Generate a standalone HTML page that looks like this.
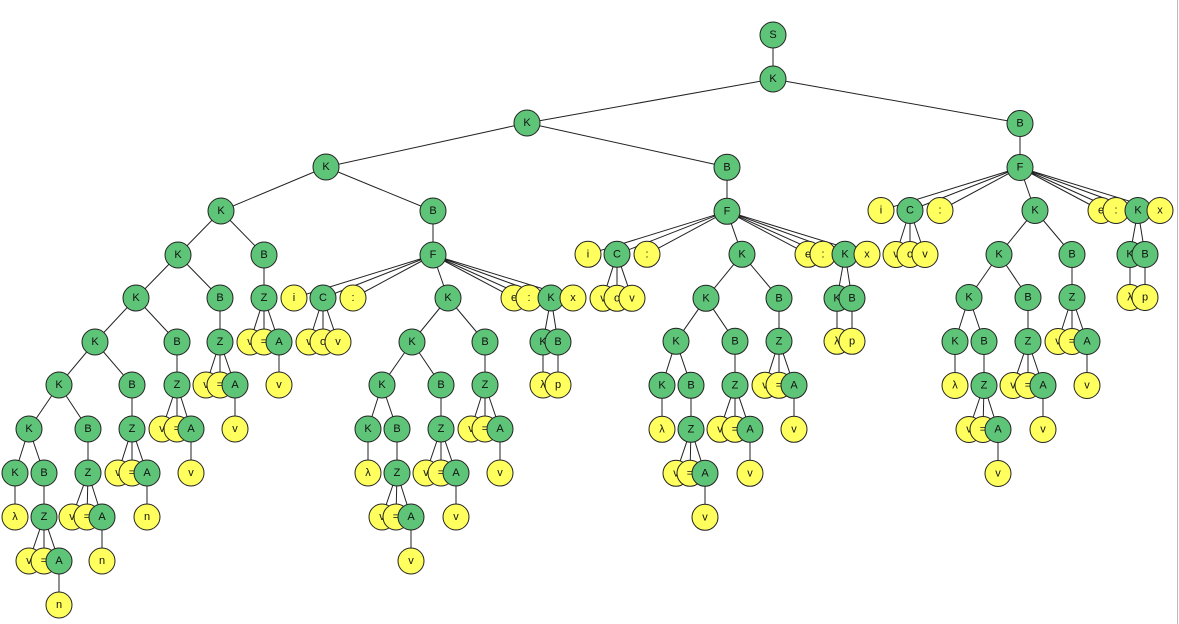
<!DOCTYPE html>
<html><head><meta charset="utf-8"><style>
html,body{margin:0;padding:0;background:#fff;}
svg{display:block;}
text{font-family:"Liberation Sans","DejaVu Sans",sans-serif;font-size:11px;text-anchor:middle;dominant-baseline:central;fill:#111;}
.g{fill:#5ec478;stroke:#222;stroke-width:1;}
.y{fill:#ffff5e;stroke:#222;stroke-width:1;}
.e{stroke:#222;stroke-width:1;fill:none;}
</style></head><body>
<svg width="1179" height="624" viewBox="0 0 1179 624" xmlns="http://www.w3.org/2000/svg">
<defs>
<g id="dummy"></g>
</defs>
<line x1="1177.5" y1="0" x2="1177.5" y2="624" stroke="#bbb"/>
<path class="e" d="M773 35L773 79M773 79L527 123M773 79L1020 123M527 123L326 167M527 123L727 167M326 167L221 211M326 167L433 211
M221 211L178 255M221 211L264 255M264 255L264 298M264 298L250 342M264 298L264 342M264 298L279 342M279 342L279 385
M178 255L136 298M178 255L220 298M220 298L220 342M220 342L206 385M220 342L220 385M220 342L235 385M235 385L235 429
M136 298L95 342M136 298L177 342M177 342L177 385M177 385L162 429M177 385L177 429M177 385L191 429M191 429L191 473
M95 342L59 385M95 342L132 385M132 385L132 429M132 429L118 473M132 429L132 473M132 429L147 473M147 473L147 517
M59 385L29 429M59 385L88 429M88 429L88 473M88 473L72 517M88 473L87 517M88 473L102 517M102 517L102 561
M29 429L15 473M29 429L44 473M15 473L15 517M44 473L44 517M44 517L29 561M44 517L44 561M44 517L59 561M59 561L59 605"/>
<g>
<circle class="g" cx="773" cy="35" r="13"/><text x="773" y="35">S</text>
<circle class="g" cx="773" cy="79" r="13"/><text x="773" y="79">K</text>
<circle class="g" cx="527" cy="123" r="13"/><text x="527" y="123">K</text>
<circle class="g" cx="326" cy="167" r="13"/><text x="326" y="167">K</text>
<circle class="g" cx="221" cy="211" r="13"/><text x="221" y="211">K</text>
<circle class="g" cx="178" cy="255" r="13"/><text x="178" y="255">K</text>
<circle class="g" cx="264" cy="255" r="13"/><text x="264" y="255">B</text>
<circle class="g" cx="264" cy="298" r="13"/><text x="264" y="298">Z</text>
<circle class="y" cx="250" cy="342" r="13"/><text x="250" y="342">v</text>
<circle class="y" cx="264" cy="342" r="13"/><text x="264" y="342">=</text>
<circle class="g" cx="279" cy="342" r="13"/><text x="279" y="342">A</text>
<circle class="y" cx="279" cy="385" r="13"/><text x="279" y="385">v</text>
<circle class="g" cx="136" cy="298" r="13"/><text x="136" y="298">K</text>
<circle class="g" cx="220" cy="298" r="13"/><text x="220" y="298">B</text>
<circle class="g" cx="220" cy="342" r="13"/><text x="220" y="342">Z</text>
<circle class="y" cx="206" cy="385" r="13"/><text x="206" y="385">v</text>
<circle class="y" cx="220" cy="385" r="13"/><text x="220" y="385">=</text>
<circle class="g" cx="235" cy="385" r="13"/><text x="235" y="385">A</text>
<circle class="y" cx="235" cy="429" r="13"/><text x="235" y="429">v</text>
<circle class="g" cx="95" cy="342" r="13"/><text x="95" y="342">K</text>
<circle class="g" cx="177" cy="342" r="13"/><text x="177" y="342">B</text>
<circle class="g" cx="177" cy="385" r="13"/><text x="177" y="385">Z</text>
<circle class="y" cx="162" cy="429" r="13"/><text x="162" y="429">v</text>
<circle class="y" cx="177" cy="429" r="13"/><text x="177" y="429">=</text>
<circle class="g" cx="191" cy="429" r="13"/><text x="191" y="429">A</text>
<circle class="y" cx="191" cy="473" r="13"/><text x="191" y="473">v</text>
<circle class="g" cx="59" cy="385" r="13"/><text x="59" y="385">K</text>
<circle class="g" cx="132" cy="385" r="13"/><text x="132" y="385">B</text>
<circle class="g" cx="132" cy="429" r="13"/><text x="132" y="429">Z</text>
<circle class="y" cx="118" cy="473" r="13"/><text x="118" y="473">v</text>
<circle class="y" cx="132" cy="473" r="13"/><text x="132" y="473">=</text>
<circle class="g" cx="147" cy="473" r="13"/><text x="147" y="473">A</text>
<circle class="y" cx="147" cy="517" r="13"/><text x="147" y="517">n</text>
<circle class="g" cx="29" cy="429" r="13"/><text x="29" y="429">K</text>
<circle class="g" cx="88" cy="429" r="13"/><text x="88" y="429">B</text>
<circle class="g" cx="88" cy="473" r="13"/><text x="88" y="473">Z</text>
<circle class="y" cx="72" cy="517" r="13"/><text x="72" y="517">v</text>
<circle class="y" cx="87" cy="517" r="13"/><text x="87" y="517">=</text>
<circle class="g" cx="102" cy="517" r="13"/><text x="102" y="517">A</text>
<circle class="y" cx="102" cy="561" r="13"/><text x="102" y="561">n</text>
<circle class="g" cx="15" cy="473" r="13"/><text x="15" y="473">K</text>
<circle class="g" cx="44" cy="473" r="13"/><text x="44" y="473">B</text>
<circle class="y" cx="15" cy="517" r="13"/><text x="15" y="517">λ</text>
<circle class="g" cx="44" cy="517" r="13"/><text x="44" y="517">Z</text>
<circle class="y" cx="29" cy="561" r="13"/><text x="29" y="561">v</text>
<circle class="y" cx="44" cy="561" r="13"/><text x="44" y="561">=</text>
<circle class="g" cx="59" cy="561" r="13"/><text x="59" y="561">A</text>
<circle class="y" cx="59" cy="605" r="13"/><text x="59" y="605">n</text>
</g>

<!-- F subtree, copy 1 -->
<g>
<path class="e" d="M433 211L433 255M433 255L294 298M433 255L323 298M433 255L353 298M433 255L448 298M433 255L514 298M433 255L529 298M433 255L551 298M433 255L573 298
M323 298L309 342M323 298L323 342M323 298L338 342M448 298L412 342M448 298L485 342
M485 342L485 385M485 385L471 429M485 385L485 429M485 385L500 429M500 429L500 473
M412 342L382 385M412 342L441 385M441 385L441 429M441 429L426 473M441 429L441 473M441 429L456 473M456 473L456 517
M382 385L368 429M382 385L397 429M368 429L368 473M397 429L397 473M397 473L382 517M397 473L396 517M397 473L411 517M411 517L411 561
M551 298L543 342M551 298L558 342M543 342L543 385M558 342L558 385"/>
<circle class="g" cx="433" cy="211" r="13"/><text x="433" y="211">B</text>
<circle class="g" cx="433" cy="255" r="13"/><text x="433" y="255">F</text>
<circle class="y" cx="294" cy="298" r="13"/><text x="294" y="298">i</text>
<circle class="g" cx="323" cy="298" r="13"/><text x="323" y="298">C</text>
<circle class="y" cx="353" cy="298" r="13"/><text x="353" y="298">:</text>
<circle class="y" cx="309" cy="342" r="13"/><text x="309" y="342">v</text>
<circle class="y" cx="323" cy="342" r="13"/><text x="323" y="342">o</text>
<circle class="y" cx="338" cy="342" r="13"/><text x="338" y="342">v</text>
<circle class="g" cx="448" cy="298" r="13"/><text x="448" y="298">K</text>
<circle class="y" cx="514" cy="298" r="13"/><text x="514" y="298">e</text>
<circle class="y" cx="529" cy="298" r="13"/><text x="529" y="298">:</text>
<circle class="g" cx="551" cy="298" r="13"/><text x="551" y="298">K</text>
<circle class="y" cx="573" cy="298" r="13"/><text x="573" y="298">x</text>
<circle class="g" cx="543" cy="342" r="13"/><text x="543" y="342">K</text>
<circle class="g" cx="558" cy="342" r="13"/><text x="558" y="342">B</text>
<circle class="y" cx="543" cy="385" r="13"/><text x="543" y="385">λ</text>
<circle class="y" cx="558" cy="385" r="13"/><text x="558" y="385">p</text>
<circle class="g" cx="412" cy="342" r="13"/><text x="412" y="342">K</text>
<circle class="g" cx="485" cy="342" r="13"/><text x="485" y="342">B</text>
<circle class="g" cx="485" cy="385" r="13"/><text x="485" y="385">Z</text>
<circle class="y" cx="471" cy="429" r="13"/><text x="471" y="429">v</text>
<circle class="y" cx="485" cy="429" r="13"/><text x="485" y="429">=</text>
<circle class="g" cx="500" cy="429" r="13"/><text x="500" y="429">A</text>
<circle class="y" cx="500" cy="473" r="13"/><text x="500" y="473">v</text>
<circle class="g" cx="382" cy="385" r="13"/><text x="382" y="385">K</text>
<circle class="g" cx="441" cy="385" r="13"/><text x="441" y="385">B</text>
<circle class="g" cx="441" cy="429" r="13"/><text x="441" y="429">Z</text>
<circle class="y" cx="426" cy="473" r="13"/><text x="426" y="473">v</text>
<circle class="y" cx="441" cy="473" r="13"/><text x="441" y="473">=</text>
<circle class="g" cx="456" cy="473" r="13"/><text x="456" y="473">A</text>
<circle class="y" cx="456" cy="517" r="13"/><text x="456" y="517">v</text>
<circle class="g" cx="368" cy="429" r="13"/><text x="368" y="429">K</text>
<circle class="g" cx="397" cy="429" r="13"/><text x="397" y="429">B</text>
<circle class="y" cx="368" cy="473" r="13"/><text x="368" y="473">λ</text>
<circle class="g" cx="397" cy="473" r="13"/><text x="397" y="473">Z</text>
<circle class="y" cx="382" cy="517" r="13"/><text x="382" y="517">v</text>
<circle class="y" cx="396" cy="517" r="13"/><text x="396" y="517">=</text>
<circle class="g" cx="411" cy="517" r="13"/><text x="411" y="517">A</text>
<circle class="y" cx="411" cy="561" r="13"/><text x="411" y="561">v</text>
</g>

<!-- copy 2 -->
<g transform="translate(294,-43.7)">
<path class="e" d="M433 211L433 255M433 255L294 298M433 255L323 298M433 255L353 298M433 255L448 298M433 255L514 298M433 255L529 298M433 255L551 298M433 255L573 298
M323 298L309 342M323 298L323 342M323 298L338 342M448 298L412 342M448 298L485 342
M485 342L485 385M485 385L471 429M485 385L485 429M485 385L500 429M500 429L500 473
M412 342L382 385M412 342L441 385M441 385L441 429M441 429L426 473M441 429L441 473M441 429L456 473M456 473L456 517
M382 385L368 429M382 385L397 429M368 429L368 473M397 429L397 473M397 473L382 517M397 473L396 517M397 473L411 517M411 517L411 561
M551 298L543 342M551 298L558 342M543 342L543 385M558 342L558 385"/>
<circle class="g" cx="433" cy="211" r="13"/><text x="433" y="211">B</text>
<circle class="g" cx="433" cy="255" r="13"/><text x="433" y="255">F</text>
<circle class="y" cx="294" cy="298" r="13"/><text x="294" y="298">i</text>
<circle class="g" cx="323" cy="298" r="13"/><text x="323" y="298">C</text>
<circle class="y" cx="353" cy="298" r="13"/><text x="353" y="298">:</text>
<circle class="y" cx="309" cy="342" r="13"/><text x="309" y="342">v</text>
<circle class="y" cx="323" cy="342" r="13"/><text x="323" y="342">o</text>
<circle class="y" cx="338" cy="342" r="13"/><text x="338" y="342">v</text>
<circle class="g" cx="448" cy="298" r="13"/><text x="448" y="298">K</text>
<circle class="y" cx="514" cy="298" r="13"/><text x="514" y="298">e</text>
<circle class="y" cx="529" cy="298" r="13"/><text x="529" y="298">:</text>
<circle class="g" cx="551" cy="298" r="13"/><text x="551" y="298">K</text>
<circle class="y" cx="573" cy="298" r="13"/><text x="573" y="298">x</text>
<circle class="g" cx="543" cy="342" r="13"/><text x="543" y="342">K</text>
<circle class="g" cx="558" cy="342" r="13"/><text x="558" y="342">B</text>
<circle class="y" cx="543" cy="385" r="13"/><text x="543" y="385">λ</text>
<circle class="y" cx="558" cy="385" r="13"/><text x="558" y="385">p</text>
<circle class="g" cx="412" cy="342" r="13"/><text x="412" y="342">K</text>
<circle class="g" cx="485" cy="342" r="13"/><text x="485" y="342">B</text>
<circle class="g" cx="485" cy="385" r="13"/><text x="485" y="385">Z</text>
<circle class="y" cx="471" cy="429" r="13"/><text x="471" y="429">v</text>
<circle class="y" cx="485" cy="429" r="13"/><text x="485" y="429">=</text>
<circle class="g" cx="500" cy="429" r="13"/><text x="500" y="429">A</text>
<circle class="y" cx="500" cy="473" r="13"/><text x="500" y="473">v</text>
<circle class="g" cx="382" cy="385" r="13"/><text x="382" y="385">K</text>
<circle class="g" cx="441" cy="385" r="13"/><text x="441" y="385">B</text>
<circle class="g" cx="441" cy="429" r="13"/><text x="441" y="429">Z</text>
<circle class="y" cx="426" cy="473" r="13"/><text x="426" y="473">v</text>
<circle class="y" cx="441" cy="473" r="13"/><text x="441" y="473">=</text>
<circle class="g" cx="456" cy="473" r="13"/><text x="456" y="473">A</text>
<circle class="y" cx="456" cy="517" r="13"/><text x="456" y="517">v</text>
<circle class="g" cx="368" cy="429" r="13"/><text x="368" y="429">K</text>
<circle class="g" cx="397" cy="429" r="13"/><text x="397" y="429">B</text>
<circle class="y" cx="368" cy="473" r="13"/><text x="368" y="473">λ</text>
<circle class="g" cx="397" cy="473" r="13"/><text x="397" y="473">Z</text>
<circle class="y" cx="382" cy="517" r="13"/><text x="382" y="517">v</text>
<circle class="y" cx="396" cy="517" r="13"/><text x="396" y="517">=</text>
<circle class="g" cx="411" cy="517" r="13"/><text x="411" y="517">A</text>
<circle class="y" cx="411" cy="561" r="13"/><text x="411" y="561">v</text>
</g>

<!-- copy 3 -->
<g transform="translate(587,-87.5)">
<path class="e" d="M433 211L433 255M433 255L294 298M433 255L323 298M433 255L353 298M433 255L448 298M433 255L514 298M433 255L529 298M433 255L551 298M433 255L573 298
M323 298L309 342M323 298L323 342M323 298L338 342M448 298L412 342M448 298L485 342
M485 342L485 385M485 385L471 429M485 385L485 429M485 385L500 429M500 429L500 473
M412 342L382 385M412 342L441 385M441 385L441 429M441 429L426 473M441 429L441 473M441 429L456 473M456 473L456 517
M382 385L368 429M382 385L397 429M368 429L368 473M397 429L397 473M397 473L382 517M397 473L396 517M397 473L411 517M411 517L411 561
M551 298L543 342M551 298L558 342M543 342L543 385M558 342L558 385"/>
<circle class="g" cx="433" cy="211" r="13"/><text x="433" y="211">B</text>
<circle class="g" cx="433" cy="255" r="13"/><text x="433" y="255">F</text>
<circle class="y" cx="294" cy="298" r="13"/><text x="294" y="298">i</text>
<circle class="g" cx="323" cy="298" r="13"/><text x="323" y="298">C</text>
<circle class="y" cx="353" cy="298" r="13"/><text x="353" y="298">:</text>
<circle class="y" cx="309" cy="342" r="13"/><text x="309" y="342">v</text>
<circle class="y" cx="323" cy="342" r="13"/><text x="323" y="342">o</text>
<circle class="y" cx="338" cy="342" r="13"/><text x="338" y="342">v</text>
<circle class="g" cx="448" cy="298" r="13"/><text x="448" y="298">K</text>
<circle class="y" cx="514" cy="298" r="13"/><text x="514" y="298">e</text>
<circle class="y" cx="529" cy="298" r="13"/><text x="529" y="298">:</text>
<circle class="g" cx="551" cy="298" r="13"/><text x="551" y="298">K</text>
<circle class="y" cx="573" cy="298" r="13"/><text x="573" y="298">x</text>
<circle class="g" cx="543" cy="342" r="13"/><text x="543" y="342">K</text>
<circle class="g" cx="558" cy="342" r="13"/><text x="558" y="342">B</text>
<circle class="y" cx="543" cy="385" r="13"/><text x="543" y="385">λ</text>
<circle class="y" cx="558" cy="385" r="13"/><text x="558" y="385">p</text>
<circle class="g" cx="412" cy="342" r="13"/><text x="412" y="342">K</text>
<circle class="g" cx="485" cy="342" r="13"/><text x="485" y="342">B</text>
<circle class="g" cx="485" cy="385" r="13"/><text x="485" y="385">Z</text>
<circle class="y" cx="471" cy="429" r="13"/><text x="471" y="429">v</text>
<circle class="y" cx="485" cy="429" r="13"/><text x="485" y="429">=</text>
<circle class="g" cx="500" cy="429" r="13"/><text x="500" y="429">A</text>
<circle class="y" cx="500" cy="473" r="13"/><text x="500" y="473">v</text>
<circle class="g" cx="382" cy="385" r="13"/><text x="382" y="385">K</text>
<circle class="g" cx="441" cy="385" r="13"/><text x="441" y="385">B</text>
<circle class="g" cx="441" cy="429" r="13"/><text x="441" y="429">Z</text>
<circle class="y" cx="426" cy="473" r="13"/><text x="426" y="473">v</text>
<circle class="y" cx="441" cy="473" r="13"/><text x="441" y="473">=</text>
<circle class="g" cx="456" cy="473" r="13"/><text x="456" y="473">A</text>
<circle class="y" cx="456" cy="517" r="13"/><text x="456" y="517">v</text>
<circle class="g" cx="368" cy="429" r="13"/><text x="368" y="429">K</text>
<circle class="g" cx="397" cy="429" r="13"/><text x="397" y="429">B</text>
<circle class="y" cx="368" cy="473" r="13"/><text x="368" y="473">λ</text>
<circle class="g" cx="397" cy="473" r="13"/><text x="397" y="473">Z</text>
<circle class="y" cx="382" cy="517" r="13"/><text x="382" y="517">v</text>
<circle class="y" cx="396" cy="517" r="13"/><text x="396" y="517">=</text>
<circle class="g" cx="411" cy="517" r="13"/><text x="411" y="517">A</text>
<circle class="y" cx="411" cy="561" r="13"/><text x="411" y="561">v</text>
</g>
</svg>
</body></html>
